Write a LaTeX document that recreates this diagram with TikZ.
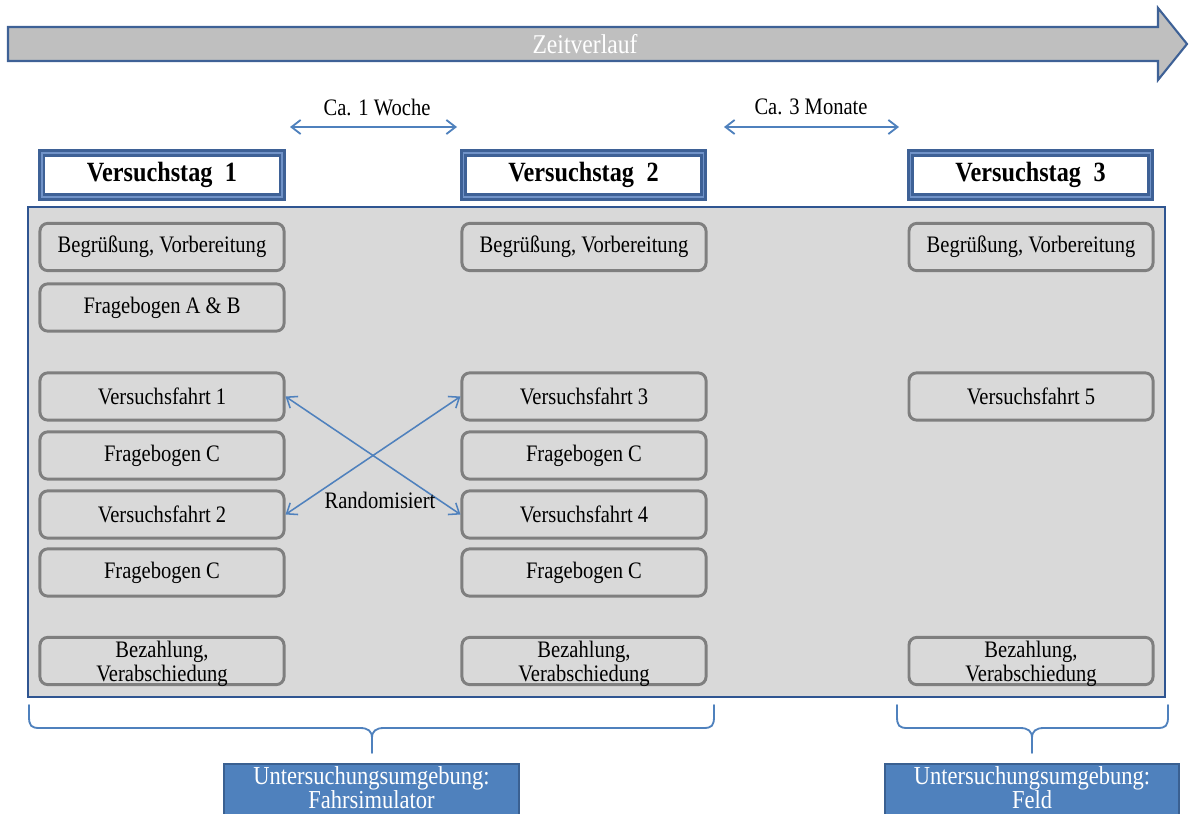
\documentclass[tikz,border=0pt]{standalone}
\usepackage{fontspec}
\setmainfont[FakeStretch=0.87]{Liberation Serif}
\usetikzlibrary{arrows.meta}
\definecolor{arrowgray}{HTML}{BFBFBF}
\definecolor{frameblue}{HTML}{3E6196}
\definecolor{hdrlight}{HTML}{7193C8}
\definecolor{paneledge}{HTML}{2F5591}
\definecolor{panelfill}{HTML}{D9D9D9}
\definecolor{boxgray}{HTML}{7F7F7F}
\definecolor{linkblue}{HTML}{4F81BD}
\definecolor{envedge}{HTML}{3A6091}
\tikzset{
  stepbox/.style={draw=boxgray, line width=2.1pt, fill=panelfill, rounded corners=5.5pt,
    minimum width=6.1cm, minimum height=1.18cm, align=center, inner sep=0pt,
    font=\fontsize{16.8pt}{17pt}\selectfont},
  twoline/.style={text depth=0pt},
  daybox/.style={draw=frameblue, double=hdrlight, double distance=1.2pt, line width=1.9pt,
    fill=white, minimum width=6cm, minimum height=1.1cm, inner sep=0pt,
    font=\bfseries\fontsize{19.8pt}{20pt}\selectfont},
  envbox/.style={draw=envedge, line width=1.4pt, fill=linkblue,
    minimum width=7.37cm, minimum height=1.45cm, inner sep=0pt},
  envtext/.style={text=white, align=center, inner sep=0pt, anchor=north,
    font=\fontsize{18.4pt}{17.6pt}\selectfont},
  labeltext/.style={inner sep=0pt, font=\fontsize{16.8pt}{17pt}\selectfont},
  barb/.tip={Straight Barb[length=6.5pt,width=10pt]},
  link/.style={draw=linkblue, line width=1.3pt, barb-barb},
  bracket/.style={draw=linkblue, line width=1.3pt, line cap=round}
}
\begin{document}
\begin{tikzpicture}[x=0.025cm,y=-0.025cm]
\useasboundingbox (0,0) rectangle (1189,814);
\clip (0,0) rectangle (1189,814);

% time line arrow
\draw[fill=arrowgray, draw=frameblue, line width=1.5pt, line join=miter]
  (8,27) -- (1158,27) -- (1158,8) -- (1187,44) -- (1158,80) -- (1158,61) -- (8,61) -- cycle;
\node[text=white, inner sep=0pt, font=\fontsize{19.3pt}{20pt}\selectfont] (zeit) at (585,44) {Zeitverlauf};

% intervals between the test days
\node[labeltext] (woche) at (377,107) {Ca. 1 Woche};
\node[labeltext] (monate) at (811,107) {Ca. 3 Monate};
\coordinate (w1) at (290,127);
\coordinate (w2) at (457,127);
\coordinate (m1) at (724,127);
\coordinate (m2) at (899,127);
\draw[link] (w1) -- (w2);
\draw[link] (m1) -- (m2);

% day headers
\node[daybox] (day1) at (162,175) {Versuchstag\hspace{0.45em}1};
\node[daybox] (day2) at (583.5,175) {Versuchstag\hspace{0.45em}2};
\node[daybox] (day3) at (1030.5,175) {Versuchstag\hspace{0.45em}3};

% common panel
\node[draw=paneledge, line width=1.5pt, fill=panelfill, minimum width=28.4cm,
      minimum height=12.24cm, inner sep=0pt] (panel) at (596.5,452) {};

% day 1
\node[stepbox] (a1) at (162,247) {Begrüßung, Vorbereitung};
\node[stepbox] (a2) at (162,307.5) {Fragebogen A \& B};
\node[stepbox] (a3) at (162,396.5) {Versuchsfahrt 1};
\node[stepbox] (a4) at (162,455.5) {Fragebogen C};
\node[stepbox] (a5) at (162,514.5) {Versuchsfahrt 2};
\node[stepbox] (a6) at (162,572.5) {Fragebogen C};
\node[stepbox, twoline] (a7) at (162,661) {Bezahlung,\\Verabschiedung};

% day 2
\node[stepbox] (b1) at (584,247) {Begrüßung, Vorbereitung};
\node[stepbox] (b3) at (584,396.5) {Versuchsfahrt 3};
\node[stepbox] (b4) at (584,455.5) {Fragebogen C};
\node[stepbox] (b5) at (584,514.5) {Versuchsfahrt 4};
\node[stepbox] (b6) at (584,572.5) {Fragebogen C};
\node[stepbox, twoline] (b7) at (584,661) {Bezahlung,\\Verabschiedung};

% day 3
\node[stepbox] (c1) at (1031,247) {Begrüßung, Vorbereitung};
\node[stepbox] (c3) at (1031,396.5) {Versuchsfahrt 5};
\node[stepbox, twoline] (c7) at (1031,661) {Bezahlung,\\Verabschiedung};

% randomised order of the drives
\draw[link, line width=1.1pt] (a3.east) -- (b5.west);
\draw[link, line width=1.1pt] (a5.east) -- (b3.west);
\node[labeltext] (rand) at (380,500) {Randomisiert};

% braces grouping the environments
\coordinate (l1) at (29,705);
\coordinate (l2) at (714,705);
\coordinate (lm) at (372,753);
\draw[bracket] (l1) -- (29,716) .. controls (29,726) and (31,728) .. (40,728)
  -- (360,728) .. controls (368,728) and (372,731) .. (372,738) -- (lm);
\draw[bracket] (l2) -- (714,716) .. controls (714,726) and (712,728) .. (703,728)
  -- (384,728) .. controls (376,728) and (372,731) .. (372,738);
\coordinate (r1) at (897,705);
\coordinate (r2) at (1168,705);
\coordinate (rm) at (1032,753);
\draw[bracket] (r1) -- (897,716) .. controls (897,726) and (899,728) .. (908,728)
  -- (1020,728) .. controls (1028,728) and (1032,731) .. (1032,738) -- (rm);
\draw[bracket] (r2) -- (1168,716) .. controls (1168,726) and (1166,728) .. (1157,728)
  -- (1044,728) .. controls (1036,728) and (1032,731) .. (1032,738);

% environments
\node[envbox] (env1) at (371.5,793) {};
\node[envbox] (env2) at (1032,793) {};
\node[envtext] (env1text) at (371.5,766) {Untersuchungsumgebung:\\Fahrsimulator};
\node[envtext] (env2text) at (1032,766) {Untersuchungsumgebung:\\Feld};
\end{tikzpicture}
\end{document}
